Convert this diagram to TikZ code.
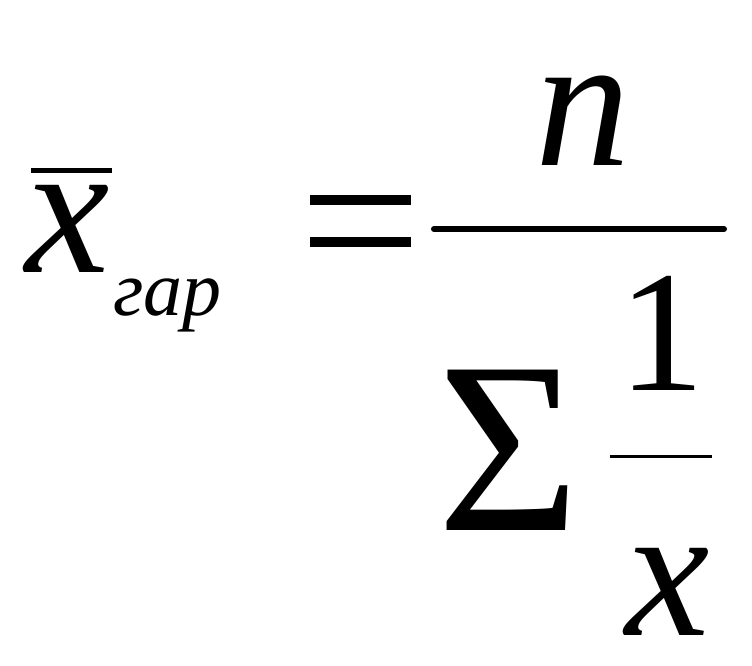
\documentclass[tikz,border=0pt]{standalone}
\usepackage{fontspec}
\setmainfont{Liberation Serif}
\begin{document}
\begin{tikzpicture}[x=1pt,y=-1pt,
  glyph/.style={anchor=base west,inner sep=0pt,outer sep=0pt},
  big/.style={glyph,font=\fontsize{190}{190}\selectfont\itshape},
  sub/.style={glyph,font=\fontsize{78}{78}\selectfont\itshape},
  one/.style={glyph,font=\fontsize{173}{173}\selectfont},
  sig/.style={glyph,font=\fontsize{245}{245}\selectfont},
  rule/.style={line cap=butt}]
\useasboundingbox[fill=white] (0,0) rectangle (752,665);
% left side
\node[big] (xl) at (25,272) {x};
\coordinate (ob1) at (31,170);
\coordinate (ob2) at (112,170);
\draw[rule,line width=5pt] (ob1) -- (ob2);
\node[sub] (gar) at (113,315) {гар};
% equals
\coordinate (e1a) at (310,200);
\coordinate (e1b) at (411,200);
\coordinate (e2a) at (310,242);
\coordinate (e2b) at (411,242);
\draw[rule,line width=10pt] (e1a) -- (e1b);
\draw[rule,line width=10pt] (e2a) -- (e2b);
% main fraction
\node[big] (n) at (535,165) {n};
\coordinate (fb1) at (434,229);
\coordinate (fb2) at (724,229);
\draw[line cap=round,line width=6pt] (fb1) -- (fb2);
\node[sig] (sum) at (437,530) {Σ};
\node[one] (one) at (618,390) {1};
\coordinate (sb1) at (610,456);
\coordinate (sb2) at (712,456);
\draw[rule,line width=3pt] (sb1) -- (sb2);
\node[big] (xd) at (625,635) {x};
\end{tikzpicture}
\end{document}
